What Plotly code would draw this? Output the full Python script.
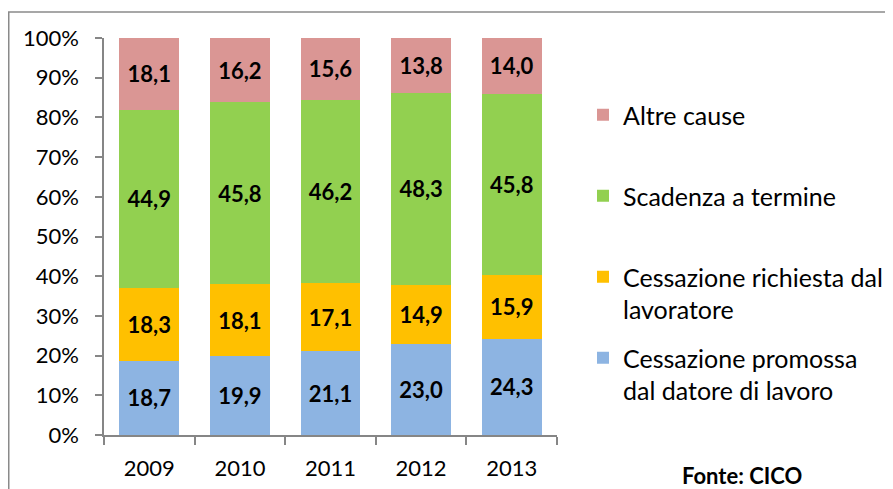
import plotly.graph_objects as go

years = ["2009", "2010", "2011", "2012", "2013"]
promossa = [18.7, 19.9, 21.1, 23.0, 24.3]
richiesta = [18.3, 18.1, 17.1, 14.9, 15.9]
scadenza = [44.9, 45.8, 46.2, 48.3, 45.8]
altre = [18.1, 16.2, 15.6, 13.8, 14.0]

series = [
    ("Cessazione promossa<br>dal datore di lavoro", promossa, "#8DB4E2"),
    ("Cessazione richiesta dal<br>lavoratore", richiesta, "#FFC000"),
    ("Scadenza a termine<br>\u00a0", scadenza, "#92D050"),
    ("Altre cause<br>\u00a0", altre, "#DA9694"),
]

OFF = 8  # page body margin
W, H = 893, 489
# plot area in screen pixels: x 104..557, y 38..435
L = 104 - OFF
T = 38 - OFF
R = W - (557 - OFF)
B = H - (435 - OFF)
pw = W - L - R
ph = H - T - B

def px_x(x):
    return (x - OFF - L) / pw

def px_y(y):
    return (H - B - (y - OFF)) / ph

fig = go.Figure()
n = len(series)
for i, (name, vals, col) in enumerate(series):
    fig.add_trace(go.Bar(
        x=years, y=vals, name=name,
        marker=dict(color=col, line=dict(width=0)),
        text=[f"{v:.1f}".replace(".", ",") for v in vals],
        textposition="inside", insidetextanchor="middle", textangle=0,
        constraintext="none",
        textfont=dict(family="Lato", size=22, color="black", weight="bold"),
        legendgroup=f"g{i}",
        legendrank=n - i,
        hoverinfo="skip",
    ))

fig.add_shape(type="rect", xref="paper", yref="paper",
              x0=px_x(8.75), x1=px_x(920), y0=px_y(520), y1=px_y(12),
              line=dict(color="#8A8A8A", width=1.5), layer="below")

fig.add_annotation(text="<b>Fonte: CICO</b>", xref="paper", yref="paper",
                   x=px_x(742), y=px_y(476), xanchor="center", yanchor="middle",
                   showarrow=False,
                   font=dict(family="Lato", size=22, color="black"))

fig.update_layout(
    width=W, height=H,
    margin=dict(l=L, r=R, t=T, b=B, autoexpand=False),
    barmode="stack", bargap=0.34,
    plot_bgcolor="white", paper_bgcolor="white",
    font=dict(family="Lato", size=21, color="black"),
    showlegend=True,
    legend=dict(
        x=px_x(583), y=px_y(92), xanchor="left", yanchor="top",
        traceorder="grouped", tracegroupgap=13, valign="top",
        font=dict(family="Lato", size=25, color="black"),
        bgcolor="rgba(0,0,0,0)",
    ),
    xaxis=dict(
        showline=True, linecolor="#868686", linewidth=1.5,
        ticks="outside", tickson="boundaries", ticklen=8, tickcolor="#868686",
        tickwidth=1.5, showgrid=False, ticklabelstandoff=13,
        tickfont=dict(family="Lato", size=22, color="black"),
    ),
    yaxis=dict(
        range=[0, 100], dtick=10, ticksuffix="%",
        showline=True, linecolor="#868686", linewidth=1.5,
        ticks="outside", ticklen=7, tickcolor="#868686", tickwidth=1.5,
        showgrid=False, zeroline=False, ticklabelstandoff=12,
        tickfont=dict(family="Lato", size=22, color="black"),
    ),
)

fig.write_html("out.html")
